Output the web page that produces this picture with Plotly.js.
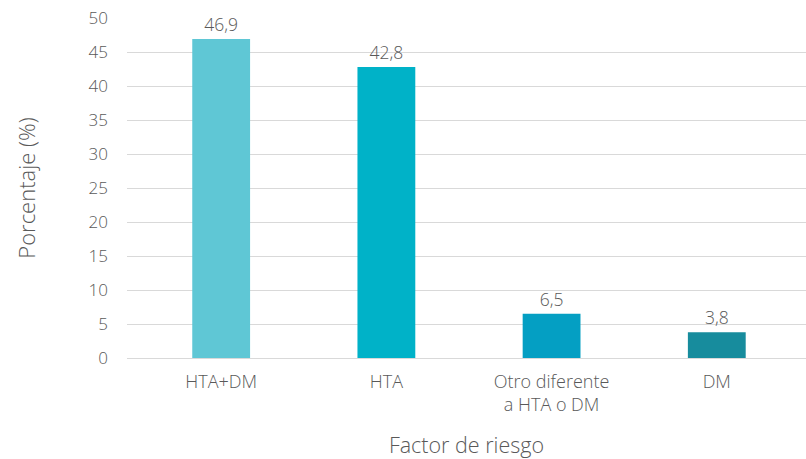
<!DOCTYPE html>
<html>
<head>
<meta charset="utf-8">
<script src="https://cdn.plot.ly/plotly-3.0.1.min.js"></script>
<style>html,body{margin:0;padding:0;background:#fff;}#chart{width:806px;height:459px;}</style>
</head>
<body>
<div id="chart"></div>
<script>
var categories = ["HTA+DM", "HTA", "Otro diferente<br>a HTA o DM", "DM"];
var values = [46.9, 42.8, 6.5, 3.8];
var valueLabels = ["46,9", "42,8", "6,5", "3,8"];
var barColors = ["#5fc7d5", "#00b2c8", "#049fc3", "#178c9d"];
var yTicks = [0, 5, 10, 15, 20, 25, 30, 35, 40, 45, 50];

var font = "'Open Sans', Lato, sans-serif";
var gray = "#595959";

Plotly.newPlot("chart", [{
  type: "bar",
  x: [0, 1, 2, 3],
  y: values,
  text: valueLabels,
  textposition: "outside",
  textfont: {family: font, size: 17.5, color: gray, weight: 300},
  cliponaxis: false,
  marker: {color: barColors},
  width: 0.35,
  hoverinfo: "none"
}], {
  width: 806, height: 459,
  margin: {l: 127, r: 0, t: 18, b: 101},
  paper_bgcolor: "#fff", plot_bgcolor: "#fff",
  showlegend: false,
  font: {family: font, color: gray},
  xaxis: {
    range: [-0.57, 3.54],
    tickvals: [0, 1, 2, 3],
    ticktext: categories,
    tickfont: {family: font, size: 18, color: gray, weight: 300},
    showgrid: false, zeroline: false,
    showline: false, ticks: "",
    ticklabelstandoff: 11,
    title: {text: "Factor de riesgo", font: {family: font, size: 21.5, color: gray, weight: 300}, standoff: 22}
  },
  yaxis: {
    range: [0, 50],
    tickvals: yTicks,
    tickfont: {family: font, size: 17, color: gray, weight: 300},
    showgrid: true, gridcolor: "#d9d9d9", gridwidth: 1,
    zeroline: true, zerolinecolor: "#d9d9d9", zerolinewidth: 1,
    showline: false, ticks: "",
    ticklabelstandoff: 18,
    title: {text: "Porcentaje (%)", font: {family: font, size: 22, color: gray, weight: 300}, standoff: 46}
  }
}, {staticPlot: true});
</script>
</body>
</html>
